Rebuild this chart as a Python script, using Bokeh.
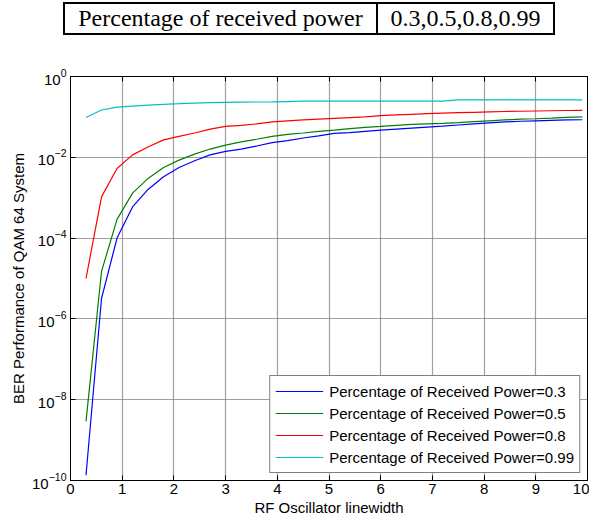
from bokeh.plotting import figure
from bokeh.layouts import column
from bokeh.models import (Div, FixedTicker, LinearAxis, Legend, LegendItem,
                          ColumnDataSource, Range1d)
from bokeh.embed import file_html
from bokeh.resources import INLINE

# ---------------- data ----------------
linewidth = [0.3, 0.6, 0.9, 1.2, 1.5, 1.8, 2.1, 2.4, 2.7, 3.0, 3.3, 3.6, 3.9, 4.2, 4.5, 4.8,
             5.1, 5.4, 5.7, 6.0, 6.3, 6.6, 6.9, 7.2, 7.5, 7.8, 8.1, 8.4, 8.7, 9.0, 9.3, 9.6, 9.9]

ber_p03 = [1.35e-10, 3.2e-6, 1.0e-4, 5.9e-4, 1.6e-3, 3.3e-3, 5.6e-3, 8.2e-3, 0.0115, 0.014,
           0.016, 0.019, 0.023, 0.026, 0.030, 0.034, 0.039, 0.041, 0.044, 0.047, 0.050, 0.053,
           0.056, 0.059, 0.063, 0.067, 0.071, 0.075, 0.078, 0.080, 0.082, 0.084, 0.085]
ber_p05 = [2.9e-9, 1.5e-5, 2.9e-4, 1.3e-3, 3.0e-3, 5.6e-3, 8.5e-3, 0.012, 0.016, 0.020,
           0.024, 0.028, 0.033, 0.037, 0.040, 0.044, 0.047, 0.051, 0.055, 0.058, 0.062, 0.065,
           0.067, 0.069, 0.072, 0.076, 0.080, 0.084, 0.088, 0.090, 0.093, 0.097, 0.100]
ber_p08 = [1.0e-5, 1.05e-3, 5.3e-3, 0.0115, 0.018, 0.027, 0.033, 0.040, 0.050, 0.058,
           0.062, 0.067, 0.075, 0.080, 0.084, 0.088, 0.092, 0.096, 0.100, 0.108, 0.112, 0.116,
           0.120, 0.124, 0.127, 0.130, 0.133, 0.136, 0.138, 0.140, 0.142, 0.144, 0.145]
ber_p099 = [0.097, 0.148, 0.175, 0.185, 0.195, 0.205, 0.212, 0.220, 0.225, 0.230,
            0.232, 0.234, 0.235, 0.240, 0.245, 0.245, 0.245, 0.245, 0.245, 0.245, 0.245, 0.245,
            0.245, 0.245, 0.265, 0.265, 0.265, 0.265, 0.265, 0.265, 0.265, 0.265, 0.265]

series_labels = ["Percentage of Received Power=0.3", "Percentage of Received Power=0.5",
                 "Percentage of Received Power=0.8", "Percentage of Received Power=0.99"]
series_colors = ["#0000ff", "#008000", "#ff0000", "#00bfbf"]

x_ticks = [0, 1, 2, 3, 4, 5, 6, 7, 8, 9, 10]
y_ticks = [1e-10, 1e-8, 1e-6, 1e-4, 1e-2, 1]

table_left = "Percentage of received power"
table_right = "0.3,0.5,0.8,0.99"

# ---------------- table header ----------------
cell = ("border:2px solid #000; padding:0; height:31px; box-sizing:border-box; "
        "font-family:'Liberation Serif'; font-size:24px; color:#000; white-space:nowrap; "
        "text-align:center; line-height:27px;")
div = Div(text=(
    "<table style='border-collapse:collapse; margin-left:58px; margin-top:-3px;'>"
    f"<tr><td style=\"{cell} width:313px;\">{table_left}</td>"
    f"<td style=\"{cell} width:177px;\">{table_right}</td></tr></table>"),
    width=580, height=28)

# ---------------- figure ----------------
p = figure(width=589, height=481, output_backend="svg", toolbar_location=None,
           y_axis_type="log", x_range=Range1d(0, 10), y_range=Range1d(1e-10, 1),
           min_border_left=70, min_border_right=2, min_border_top=38, min_border_bottom=39,
           background_fill_color="white", border_fill_color="white")

p.outline_line_color = "black"
p.outline_line_width = 1

series = [ber_p03, ber_p05, ber_p08, ber_p099]
items = []
for vals, col, lab in zip(series, series_colors, series_labels):
    src = ColumnDataSource(dict(x=linewidth, y=vals))
    r = p.line("x", "y", source=src, line_color=col, line_width=1.2)
    items.append(LegendItem(label=lab, renderers=[r]))

font = "Liberation Sans"
for ax in (p.xaxis[0], p.yaxis[0]):
    ax.major_label_text_font = font
    ax.major_label_text_font_size = "15px"
    ax.major_label_text_color = "black"
    ax.axis_label_text_font = font
    ax.axis_label_text_font_size = "15px"
    ax.axis_label_text_font_style = "normal"
    ax.axis_label_text_color = "black"
    ax.major_tick_in = 5
    ax.major_tick_out = 0
    ax.minor_tick_in = 0
    ax.minor_tick_out = 0
    ax.axis_line_color = "black"
    ax.major_tick_line_color = "black"

p.xaxis[0].ticker = FixedTicker(ticks=x_ticks)
p.yaxis[0].ticker = FixedTicker(ticks=y_ticks)
p.xaxis[0].axis_label = "RF Oscillator linewidth"
p.yaxis[0].axis_label = "BER Performance of QAM 64 System"
p.xaxis[0].major_label_standoff = 3
p.xaxis[0].axis_label_standoff = 2
p.yaxis[0].major_label_standoff = 4
p.yaxis[0].axis_label_standoff = 2

# top tick-only axis (labels invisible)
top = LinearAxis(ticker=FixedTicker(ticks=x_ticks), major_label_text_font_size="1px",
                 major_label_text_color=None, axis_label_standoff=0,
                 major_tick_in=5, major_tick_out=0, minor_tick_in=0, minor_tick_out=0,
                 major_label_standoff=0, axis_line_color="black")
p.add_layout(top, "above")

p.xgrid.ticker = FixedTicker(ticks=x_ticks)
p.ygrid.ticker = FixedTicker(ticks=y_ticks)
for g in (p.xgrid[0], p.ygrid[0]):
    g.grid_line_color = "#808080"
    g.grid_line_alpha = 0.75
    g.grid_line_width = 1.2

legend = Legend(items=items, location="bottom_right")
legend.label_text_font = font
legend.label_text_font_size = "15px"
legend.label_text_color = "black"
legend.border_line_color = "black"
legend.border_line_width = 1
legend.background_fill_alpha = 1
legend.padding = 5
legend.margin = 7
legend.spacing = 2
legend.glyph_width = 48
legend.glyph_height = 20
legend.label_height = 20
legend.label_standoff = 6
p.add_layout(legend, "center")

layout = column(div, p, spacing=0)
open("out.html", "w").write(file_html(layout, INLINE))
